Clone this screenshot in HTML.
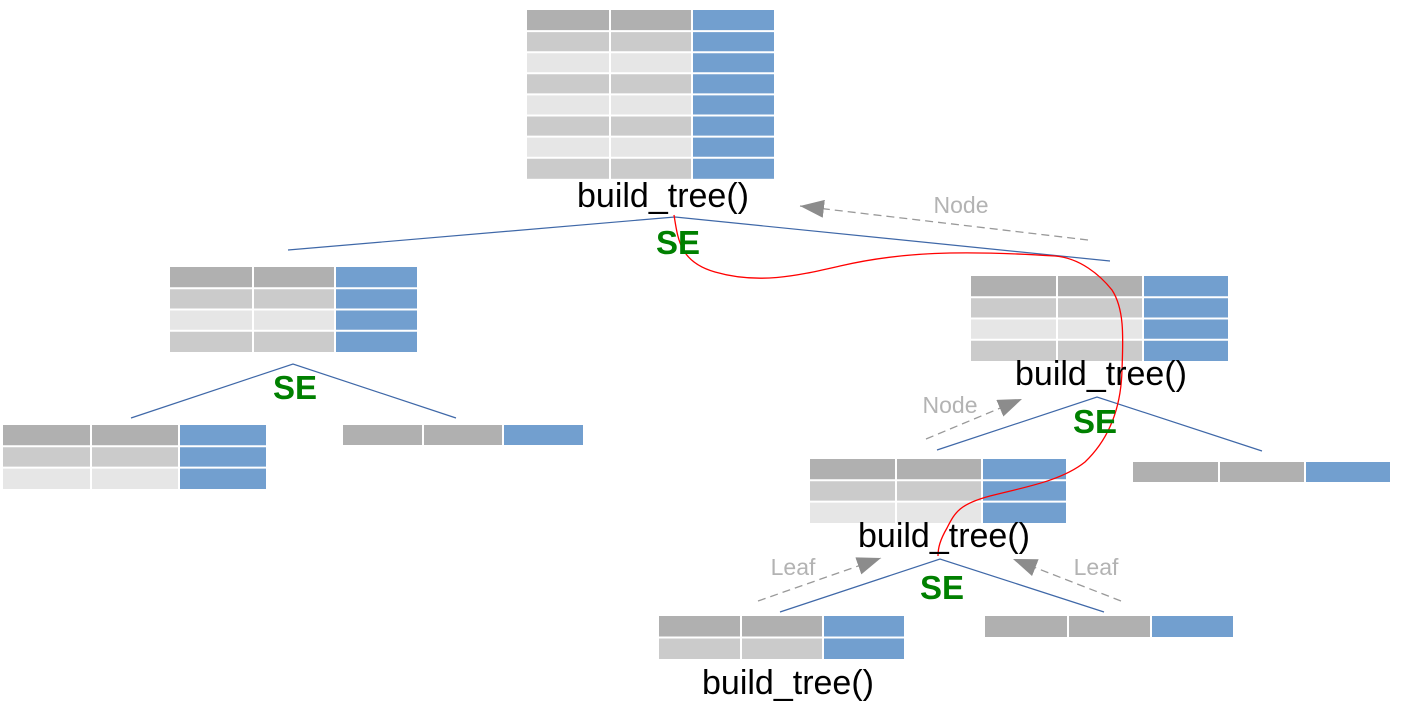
<!DOCTYPE html>
<html><head><meta charset="utf-8"><style>
html,body{margin:0;padding:0;background:#fff;}
svg{display:block;}
text{font-family:"Liberation Sans",sans-serif;}
.bt{font-size:34px;fill:#000;text-anchor:middle;}
.se{font-size:33px;font-weight:bold;fill:#008000;text-anchor:middle;}
.lb{font-size:23px;fill:#b3b3b3;text-anchor:middle;}
.g line{stroke:#fff;stroke-width:2;}
</style></head><body>
<svg width="1409" height="712" viewBox="0 0 1409 712" xmlns="http://www.w3.org/2000/svg">
<defs>
<marker id="ah2" markerWidth="26" markerHeight="18" refX="24" refY="9" orient="auto" markerUnits="userSpaceOnUse"><path d="M0,0 L24,9 L0,18 z" fill="#8c8c8c"/></marker></defs>

<g class="g">
<rect x="527" y="10" width="165" height="21.1" fill="#b0b0b0"/>
<rect x="527" y="31.1" width="165" height="21.1" fill="#cbcbcb"/>
<rect x="527" y="52.2" width="165" height="21.1" fill="#e6e6e6"/>
<rect x="527" y="73.3" width="165" height="21.1" fill="#cbcbcb"/>
<rect x="527" y="94.4" width="165" height="21.1" fill="#e6e6e6"/>
<rect x="527" y="115.5" width="165" height="21.1" fill="#cbcbcb"/>
<rect x="527" y="136.6" width="165" height="21.1" fill="#e6e6e6"/>
<rect x="527" y="157.7" width="165" height="21.1" fill="#cbcbcb"/>
<rect x="692" y="10" width="82" height="168.8" fill="#729fcf"/>
<line x1="610" y1="10" x2="610" y2="179"/><line x1="692" y1="10" x2="692" y2="179"/>
<line x1="527" y1="31.1" x2="774" y2="31.1"/><line x1="527" y1="52.2" x2="774" y2="52.2"/><line x1="527" y1="73.3" x2="774" y2="73.3"/><line x1="527" y1="94.4" x2="774" y2="94.4"/><line x1="527" y1="115.5" x2="774" y2="115.5"/><line x1="527" y1="136.6" x2="774" y2="136.6"/><line x1="527" y1="157.7" x2="774" y2="157.7"/>
</g>

<g class="g">
<rect x="170" y="267" width="165" height="21.25" fill="#b0b0b0"/>
<rect x="170" y="288.25" width="165" height="21.25" fill="#cbcbcb"/>
<rect x="170" y="309.5" width="165" height="21.25" fill="#e6e6e6"/>
<rect x="170" y="330.75" width="165" height="21.25" fill="#cbcbcb"/>
<rect x="335" y="267" width="82" height="85" fill="#729fcf"/>
<line x1="253" y1="267" x2="253" y2="352"/><line x1="335" y1="267" x2="335" y2="352"/>
<line x1="170" y1="288.25" x2="417" y2="288.25"/><line x1="170" y1="309.5" x2="417" y2="309.5"/><line x1="170" y1="330.75" x2="417" y2="330.75"/>
</g>

<g class="g">
<rect x="971" y="276" width="172" height="21.25" fill="#b0b0b0"/>
<rect x="971" y="297.25" width="172" height="21.25" fill="#cbcbcb"/>
<rect x="971" y="318.5" width="172" height="21.25" fill="#e6e6e6"/>
<rect x="971" y="339.75" width="172" height="21.25" fill="#cbcbcb"/>
<rect x="1143" y="276" width="85" height="85" fill="#729fcf"/>
<line x1="1057" y1="276" x2="1057" y2="361"/><line x1="1143" y1="276" x2="1143" y2="361"/>
<line x1="971" y1="297.25" x2="1228" y2="297.25"/><line x1="971" y1="318.5" x2="1228" y2="318.5"/><line x1="971" y1="339.75" x2="1228" y2="339.75"/>
</g>

<g class="g">
<rect x="3" y="425" width="176" height="21.3" fill="#b0b0b0"/>
<rect x="3" y="446.3" width="176" height="21.3" fill="#cbcbcb"/>
<rect x="3" y="467.6" width="176" height="21.4" fill="#e6e6e6"/>
<rect x="179" y="425" width="87" height="64" fill="#729fcf"/>
<line x1="91" y1="425" x2="91" y2="489"/><line x1="179" y1="425" x2="179" y2="489"/>
<line x1="3" y1="446.3" x2="266" y2="446.3"/><line x1="3" y1="467.6" x2="266" y2="467.6"/>
</g>

<g class="g">
<rect x="343" y="425" width="160" height="20" fill="#b0b0b0"/>
<rect x="503" y="425" width="80" height="20" fill="#729fcf"/>
<line x1="423" y1="425" x2="423" y2="445"/><line x1="503" y1="425" x2="503" y2="445"/>
</g>

<g class="g">
<rect x="810" y="459" width="172" height="21.3" fill="#b0b0b0"/>
<rect x="810" y="480.3" width="172" height="21.3" fill="#cbcbcb"/>
<rect x="810" y="501.6" width="172" height="21.4" fill="#e6e6e6"/>
<rect x="982" y="459" width="84" height="64" fill="#729fcf"/>
<line x1="896" y1="459" x2="896" y2="523"/><line x1="982" y1="459" x2="982" y2="523"/>
<line x1="810" y1="480.3" x2="1066" y2="480.3"/><line x1="810" y1="501.6" x2="1066" y2="501.6"/>
</g>

<g class="g">
<rect x="1133" y="462" width="172" height="20" fill="#b0b0b0"/>
<rect x="1305" y="462" width="85" height="20" fill="#729fcf"/>
<line x1="1219" y1="462" x2="1219" y2="482"/><line x1="1305" y1="462" x2="1305" y2="482"/>
</g>

<g class="g">
<rect x="659" y="616" width="164" height="21.5" fill="#b0b0b0"/>
<rect x="659" y="637.5" width="164" height="21.5" fill="#cbcbcb"/>
<rect x="823" y="616" width="81" height="43" fill="#729fcf"/>
<line x1="741" y1="616" x2="741" y2="659"/><line x1="823" y1="616" x2="823" y2="659"/>
<line x1="659" y1="637.5" x2="904" y2="637.5"/>
</g>

<g class="g">
<rect x="985" y="616" width="166" height="21" fill="#b0b0b0"/>
<rect x="1151" y="616" width="82" height="21" fill="#729fcf"/>
<line x1="1068" y1="616" x2="1068" y2="637"/><line x1="1151" y1="616" x2="1151" y2="637"/>
</g>

<g stroke="#3f68a8" stroke-width="1.2" fill="none">
<polyline points="288,250 675,217 1110,261"/>
<polyline points="131,418 293,364 456,418"/>
<polyline points="937,450 1097,397 1262,451"/>
<polyline points="780,612 940,559 1104,612"/>
</g>

<g stroke="#999" stroke-width="1.3" stroke-dasharray="8,5" fill="none">
<line x1="1088" y1="240" x2="800" y2="206" marker-end="url(#ah2)"/>
<line x1="926" y1="439" x2="1022" y2="399" marker-end="url(#ah2)"/>
<line x1="758" y1="601" x2="881" y2="558" marker-end="url(#ah2)"/>
<line x1="1121" y1="601" x2="1013" y2="559" marker-end="url(#ah2)"/>
</g>

<path d="M674,215 C678,240 680,262 715,272 C760,285 800,275 840,266 C900,252 960,250 1055,256 C1080,258 1100,275 1112,290 C1125,310 1123,340 1122,370 C1121,410 1108,440 1085,462 C1060,482 1020,488 990,496 C960,504 955,512 947,528 C940,540 938,548 938,556" stroke="#ff0000" stroke-width="1.3" fill="none"/>

<text class="bt" x="663" y="207">build_tree()</text>
<text class="bt" x="1101" y="385">build_tree()</text>
<text class="bt" x="944" y="547">build_tree()</text>
<text class="bt" x="788" y="694">build_tree()</text>
<text class="se" x="678" y="254">SE</text>
<text class="se" x="295" y="399">SE</text>
<text class="se" x="1095" y="433">SE</text>
<text class="se" x="942" y="599">SE</text>
<text class="lb" x="961" y="213">Node</text>
<text class="lb" x="950" y="413">Node</text>
<text class="lb" x="793" y="575">Leaf</text>
<text class="lb" x="1096" y="575">Leaf</text>
</svg>
</body></html>
